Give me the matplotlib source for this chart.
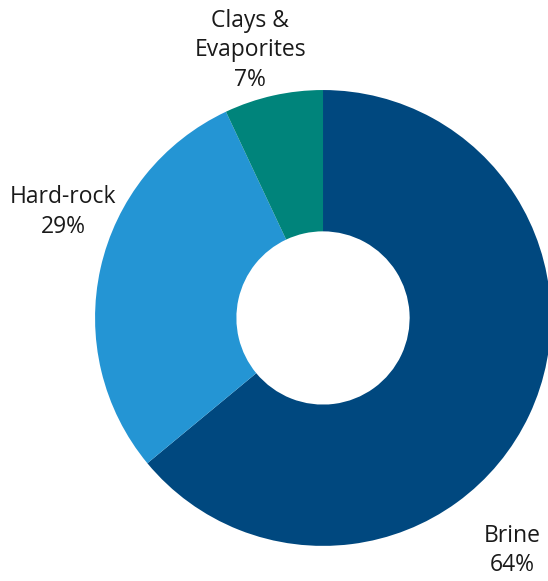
import matplotlib.pyplot as plt

labels = ['Brine', 'Hard-rock', 'Clays &\nEvaporites']
shares = [64, 29, 7]
colors = ['#00487f', '#2495d4', '#00847b']

plt.rcParams['font.family'] = ['Open Sans', 'DejaVu Sans']

fig = plt.figure(figsize=(5.48, 5.81), dpi=100)
ax = fig.add_axes([0, 0, 1, 1])

ax.pie(shares, colors=colors, startangle=90, counterclock=False,
       radius=1.0, wedgeprops=dict(width=0.62, edgecolor='none'))

# labels placed by hand around the ring
label_pos = [(0.83, -1.02), (-1.14, 0.465), (-0.32, 1.175)]
for lab, val, (x, y) in zip(labels, shares, label_pos):
    ax.text(x, y, f'{lab}\n{val}%', ha='center', va='center',
            fontsize=16.5, color='#1a1a1a', linespacing=1.3)

ax.set_xlim(-1.417, 0.987)
ax.set_ylim(-1.154, 1.395)
ax.set_aspect('auto')
ax.axis('off')

fig.savefig('out.png', dpi=100)
